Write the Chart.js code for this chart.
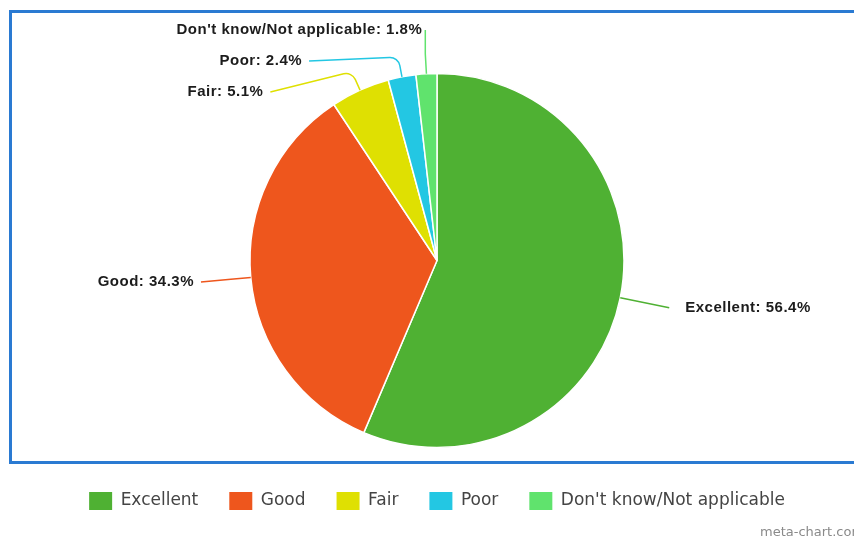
<!DOCTYPE html>
<html>
<head>
<meta charset="utf-8">
<script src="https://cdn.jsdelivr.net/npm/chart.js@4"></script>
<style>
  html, body { margin: 0; padding: 0; background: #fff; }
  #wrap { position: relative; width: 854px; height: 538px; overflow: hidden; }
  #frame {
    position: absolute; left: 9px; top: 10px; width: 900px; height: 454px;
    box-sizing: border-box; border: 3px solid #2a7ad2;
  }
  #chart { position: absolute; left: 0; top: 0; }
  #credit {
    position: absolute; left: 760px; top: 524px;
    font: 13px "DejaVu Sans", sans-serif; color: #8a8a8a; white-space: nowrap;
  }
</style>
</head>
<body>
<div id="wrap">
  <div id="frame"></div>
  <canvas id="chart" width="854" height="538"></canvas>
  <div id="credit">meta-chart.com</div>
</div>
<script>
// dados
const categories = ["Excellent", "Good", "Fair", "Poor", "Don't know/Not applicable"];
const shares = [56.4, 34.3, 5.1, 2.4, 1.8];
const sliceColors = ["#4fb133", "#ee561d", "#dfe002", "#23c7e3", "#60e36d"];

// --- rótulos com linhas de ligação ---
const leaderLabels = {
  id: "leaderLabels",
  afterDatasetsDraw(chart) {
    const ctx = chart.ctx;
    const meta = chart.getDatasetMeta(0);
    const items = meta.data.map((arc, i) => {
      const p = arc.getProps(["x", "y", "startAngle", "endAngle", "outerRadius"], true);
      const mid = (p.startAngle + p.endAngle) / 2;
      const R = p.outerRadius + 50;
      return {
        i, cx: p.x, cy: p.y, r: p.outerRadius, mid, R,
        right: Math.cos(mid) >= 0,
        ly: p.y + Math.sin(mid) * R
      };
    });

    // afasta os rótulos que se sobrepõem
    [true, false].forEach(side => {
      let prev = -Infinity;
      items.filter(it => it.right === side)
        .sort((a, b) => a.ly - b.ly)
        .forEach(it => {
          it.ly = Math.max(it.ly, prev + 31, 30);
          prev = it.ly;
        });
    });

    ctx.save();
    ctx.font = 'bold 15px "Liberation Sans", Arial, sans-serif';
    ctx.letterSpacing = "0.5px";
    ctx.textBaseline = "middle";
    items.forEach(it => {
      const ax = it.cx + Math.cos(it.mid) * it.r;
      const ay = it.cy + Math.sin(it.mid) * it.r;
      const bx = it.cx + Math.cos(it.mid) * (it.r + 20);
      const by = it.cy + Math.sin(it.mid) * (it.r + 20);
      const dy = it.ly - it.cy;
      const dx = Math.sqrt(Math.max(it.R * it.R - dy * dy, 0));
      let ex = it.right ? it.cx + dx : it.cx - dx;
      const vertical = Math.abs(Math.cos(it.mid)) < 0.1;
      if (vertical) ex = bx;
      const ey = it.ly;

      ctx.strokeStyle = sliceColors[it.i];
      ctx.lineWidth = 1.5;
      ctx.beginPath();
      ctx.moveTo(ax, ay);
      ctx.arcTo(bx, by, ex, ey, 10);
      ctx.lineTo(ex, ey);
      ctx.stroke();

      ctx.fillStyle = "#1c1c1c";
      const text = categories[it.i] + ": " + shares[it.i] + "%";
      if (it.right) {
        ctx.textAlign = "left";
        ctx.fillText(text, ex + 16, ey);
      } else {
        ctx.textAlign = "right";
        ctx.fillText(text, ex - (vertical ? 3 : 7), ey);
      }
    });
    ctx.restore();
  }
};

new Chart(document.getElementById("chart").getContext("2d"), {
  type: "pie",
  data: {
    labels: categories,
    datasets: [{
      data: shares,
      backgroundColor: sliceColors,
      borderColor: "#ffffff",
      borderWidth: 1.5,
      hoverOffset: 0
    }]
  },
  options: {
    responsive: false,
    animation: false,
    radius: 187,
    layout: { padding: { left: 20, right: 0, top: 60, bottom: 18 } },
    plugins: {
      tooltip: { enabled: false },
      legend: {
        position: "bottom",
        labels: {
          boxWidth: 23,
          boxHeight: 18,
          padding: 31,
          color: "#444",
          font: { family: '"DejaVu Sans", sans-serif', size: 17 },
          generateLabels(chart) {
            const base = Chart.overrides.doughnut.plugins.legend.labels.generateLabels(chart);
            return base.map(l => Object.assign(l, { lineWidth: 0, strokeStyle: l.fillStyle }));
          }
        }
      }
    }
  },
  plugins: [leaderLabels]
});
</script>
</body>
</html>
